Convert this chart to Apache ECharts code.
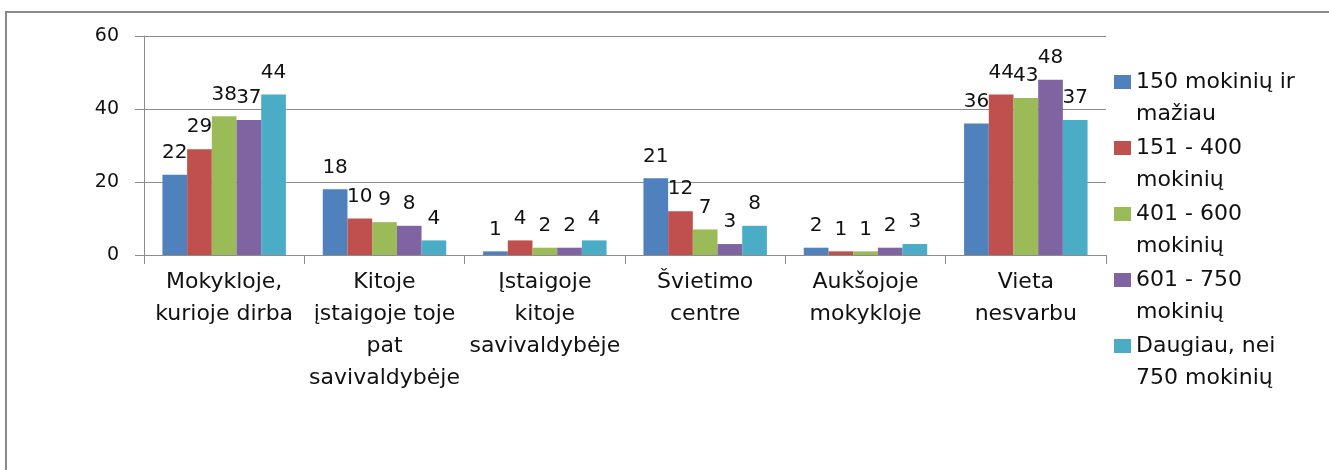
<!DOCTYPE html>
<html>
<head>
<meta charset="utf-8">
<script src="https://cdn.jsdelivr.net/npm/echarts@6/dist/echarts.min.js"></script>
<style>
  html, body { margin: 0; padding: 0; background: #fff; }
  #chart { width: 1329px; height: 470px; }
</style>
</head>
<body>
<div id="chart"></div>
<script>
// Where teachers prefer to attend training, by school size
const categories = [
  'Mokykloje,\nkurioje dirba',
  'Kitoje\nįstaigoje toje\npat\nsavivaldybėje',
  'Įstaigoje\nkitoje\nsavivaldybėje',
  'Švietimo\ncentre',
  'Aukšojoje\nmokykloje',
  'Vieta\nnesvarbu'
];

const seriesNames = [
  '150 mokinių ir\nmažiau',
  '151 - 400\nmokinių',
  '401 - 600\nmokinių',
  '601 - 750\nmokinių',
  'Daugiau, nei\n750 mokinių'
];

const upTo150   = [22, 18, 1, 21, 2, 36];
const from151   = [29, 10, 4, 12, 1, 44];
const from401   = [38, 9, 2, 7, 1, 43];
const from601   = [37, 8, 2, 3, 2, 48];
const over750   = [44, 4, 4, 8, 3, 37];

const yTicks = { min: 0, max: 60, interval: 20 };

const colors = ['#4F81BD', '#C0504D', '#9BBB59', '#8064A2', '#4BACC6'];
const seriesData = [upTo150, from151, from401, from601, over750];

const FONT = 'DejaVu Sans';
const chart = echarts.init(document.getElementById('chart'), null, { renderer: 'canvas' });

chart.setOption({
  animation: false,
  backgroundColor: '#ffffff',
  color: colors,
  textStyle: { fontFamily: FONT },
  graphic: [{
    type: 'rect',
    shape: { x: 6, y: 12, width: 1400, height: 500 },
    style: { fill: 'none', stroke: '#8a8a8a', lineWidth: 2 },
    silent: true,
    z: -1
  }],
  grid: { left: 144, right: 223, top: 36, bottom: 215 },
  legend: {
    orient: 'vertical',
    left: 1114,
    top: 34,
    padding: 0,
    itemGap: -30,
    itemWidth: 17,
    itemHeight: 14,
    icon: 'rect',
    selectedMode: false,
    // leading blank line keeps the marker beside the first text line
    formatter: name => '\n' + name,
    textStyle: {
      fontFamily: FONT,
      fontSize: 22,
      color: '#111',
      lineHeight: 32
    },
    data: seriesNames
  },
  xAxis: {
    type: 'category',
    data: categories,
    axisLine: { lineStyle: { color: '#8c8c8c', width: 1 } },
    axisTick: { show: true, length: 9, lineStyle: { color: '#8c8c8c' } },
    axisLabel: {
      interval: 0,
      margin: 11,
      fontFamily: FONT,
      fontSize: 22,
      lineHeight: 32,
      color: '#111'
    }
  },
  yAxis: {
    type: 'value',
    min: yTicks.min,
    max: yTicks.max,
    interval: yTicks.interval,
    axisLine: { show: true, lineStyle: { color: '#8c8c8c', width: 1 } },
    axisTick: { show: true, length: 9, lineStyle: { color: '#8c8c8c' } },
    splitLine: { show: true, lineStyle: { color: '#8c8c8c', width: 1 } },
    axisLabel: {
      margin: 25,
      fontFamily: FONT,
      fontSize: 19,
      color: '#111'
    }
  },
  series: seriesNames.map((name, i) => ({
    name: name,
    type: 'bar',
    data: seriesData[i],
    barGap: '0%',
    barCategoryGap: '23%',
    itemStyle: { color: colors[i] },
    label: {
      show: true,
      position: 'top',
      distance: 12,
      fontFamily: FONT,
      fontSize: 20,
      color: '#111'
    }
  }))
});
</script>
</body>
</html>
